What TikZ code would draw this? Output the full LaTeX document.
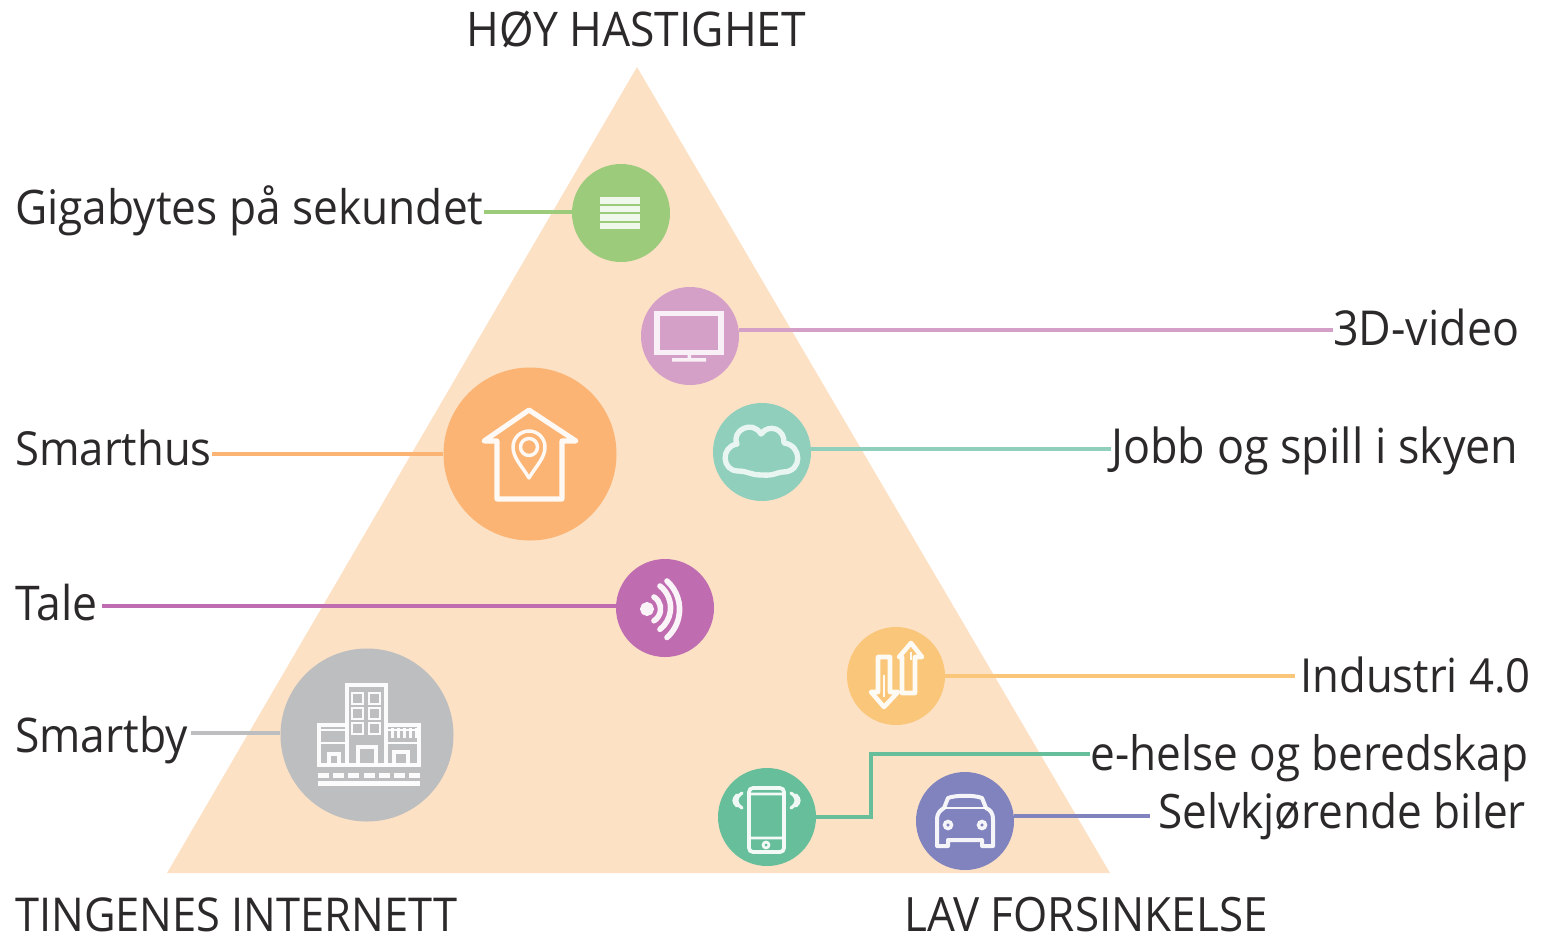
\documentclass[tikz,border=0pt]{standalone}
\usepackage{fontspec}
\setmainfont{Open Sans}[FakeStretch=0.93]
\definecolor{tri}{HTML}{FCE1C5}
\definecolor{cgig}{HTML}{9CCB7C}
\definecolor{ctv}{HTML}{D5A0C8}
\definecolor{ccloud}{HTML}{8FCFBC}
\definecolor{chome}{HTML}{FBB474}
\definecolor{cwave}{HTML}{C06CB0}
\definecolor{carrow}{HTML}{FAC77A}
\definecolor{ccity}{HTML}{BDBEC0}
\definecolor{cphone}{HTML}{66BF9A}
\definecolor{ccar}{HTML}{8083BE}
\definecolor{ink}{HTML}{2B292A}
\tikzset{
  x=0.75pt,y=-0.75pt,
  dot/.style={circle,fill=#1,draw=none,inner sep=0pt,minimum size=98*0.75pt},
  bigdot/.style={circle,fill=#1,draw=none,inner sep=0pt,minimum size=173*0.75pt},
  lab/.style={anchor=base west,inner sep=0pt,text=ink,font=\fontsize{#1}{36}\selectfont},
  wire/.style={draw=#1,line width=2.6pt},
  icon/.style={draw=white,line width=3.8pt,line join=round,line cap=round,opacity=0.92},
  thin icon/.style={draw=white,line width=2.6pt,line join=round,opacity=0.92},
}
\begin{document}
\begin{tikzpicture}
\useasboundingbox (0,0) rectangle (1548,936);
\fill[tri] (637,67) -- (1110,873) -- (167,873) -- cycle;
% circles
\node[dot=cgig] (gig) at (621,213) {};
\node[dot=ctv] (tv) at (690,336) {};
\node[dot=ccloud] (cloud) at (762,452) {};
\node[bigdot=chome] (home) at (530,454) {};
\node[dot=cwave] (wave) at (665,608) {};
\node[dot=carrow] (arrows) at (896,676) {};
\node[bigdot=ccity] (city) at (367,735) {};
\node[dot=cphone] (phone) at (767,817) {};
\node[dot=ccar] (car) at (965,821) {};
% labels
\node[lab=35.8] (top) at (466,46) {HØY HASTIGHET};
\node[lab=35.7] (lgig) at (15,224) {Gigabytes på sekundet};
\node[lab=36.1] (ltv) at (1333,345) {3D-video};
\node[lab=36.2] (lcloud) at (1111,463) {Jobb og spill i skyen};
\node[lab=35.2] (lhome) at (15,465) {Smarthus};
\node[lab=35.9] (lwave) at (15,620) {Tale};
\node[lab=35.2] (larrow) at (1300,692) {Industri 4.0};
\node[lab=35.8] (lcity) at (15,752) {Smartby};
\node[lab=35.6] (lphone) at (1090,770) {e-helse og beredskap};
\node[lab=35.6] (lcar) at (1158,828) {Selvkjørende biler};
\node[lab=35] (bl) at (15,931) {TINGENES INTERNETT};
\node[lab=35.5] (br) at (904,931) {LAV FORSINKELSE};
% connectors
\draw[wire=cgig] (lgig.east |- 0,212) -- (gig.west |- 0,212);
\draw[wire=ctv] (tv.east |- 0,330) -- (ltv.west |- 0,330);
\draw[wire=ccloud] (cloud.east |- 0,449) -- (lcloud.west |- 0,449);
\draw[wire=chome] (lhome.east |- 0,454) -- (home.west);
\draw[wire=cwave,shorten <=3pt] (lwave.east |- 0,606) -- (wave.west |- 0,606);
\draw[wire=carrow,shorten >=3.5pt] (arrows.east) -- (larrow.west |- arrows.east);
\draw[wire=ccity,shorten <=2pt] (lcity.east |- 0,733) -- (city.west |- 0,733);
\draw[wire=cphone] (phone.east) -- (871,817) -- (871,754) -- (lphone.west |- 0,754);
\draw[wire=ccar,shorten >=6pt] (car.east |- 0,816) -- (lcar.west |- 0,816);
% icon: data bars
\foreach \y in {197,205.5,214,222.5}
  \fill[white,opacity=.85] (600,\y) rectangle (640,\y+6.5);
% icon: screen
\draw[white,opacity=.85,line width=4.4pt] (657,313.5) rectangle (721,352.5);
\fill[white,opacity=.85] (687.5,355) rectangle (691,360) (672,358) rectangle (706,361.5);
% icon: cloud
\draw[white,opacity=.8,line width=4pt,line join=round]
  (738,471) .. controls (722,471) and (720,447) .. (737,444)
  .. controls (731,431) and (752,419) .. (761,434)
  .. controls (769,423) and (785,429) .. (784,443)
  .. controls (802,445) and (803,472) .. (783,472)
  .. controls (777,472) and (775,476) .. (762,475)
  .. controls (750,475) and (748,471) .. (738,471) -- cycle;
% icon: house and pin
\draw[icon] (497,441) -- (484,441) -- (529,410) -- (576,441) -- (562,441) -- (562,499) -- (497,499) -- cycle;
\draw[thin icon] (529,478) .. controls (522,466) and (513,458) .. (513,447)
  arc[start angle=180,end angle=360,radius=16]
  .. controls (545,458) and (536,466) .. (529,478) -- cycle;
\draw[thin icon] (529,447) circle[radius=8.5];
% icon: signal
\draw[white,line width=5pt,opacity=.92] (647,609) circle[radius=3.5];
\draw[white,line width=4.2pt,line cap=round,opacity=.92]
  (654,597) arc[start angle=-58,end angle=58,radius=14]
  (660,586) arc[start angle=-52,end angle=52,radius=27.5]
  (667,581) arc[start angle=-48,end angle=48,radius=38];
% icon: two arrows
\draw[white,line width=3.4pt,line join=round,opacity=.92]
  (878,657) -- (890,657) -- (890,692) -- (898,692) -- (884,707) -- (871,692) -- (878,692) -- cycle;
\draw[white,line width=3.4pt,line join=round,opacity=.92]
  (902,693) -- (915,693) -- (915,657) -- (922,657) -- (911,643) -- (899,657) -- (902,657) -- cycle;
\draw[white,line width=1.5pt,opacity=.9] (884,675) -- (884,697) (911,652) -- (911,660);
% icon: city
\begin{scope}[white,opacity=.95]
\draw[line width=3pt] (347,765) -- (347,685) -- (386,685) -- (386,765);
\draw[line width=3pt] (347,725) -- (319,725) -- (319,765) -- (419,765) -- (419,725) -- (386,725);
\draw[line width=2pt] (319,730) -- (347,730) (386,730) -- (419,730);
\foreach \x in {352,369} \foreach \y in {693,708,723}
  \draw[line width=2pt] (\x,\y) rectangle (\x+11,\y+11);
\foreach \x in {391,397,403,409,415} \fill (\x,728) rectangle (\x+2.5,738);
\draw[line width=2.6pt] (358,765) -- (358,747) -- (376,747) -- (376,765);
\draw[line width=2.6pt] (329,765) -- (329,754) -- (339,754) -- (339,765);
\draw[line width=2.6pt] (394,765) -- (394,752) -- (408,752) -- (408,765);
\draw[line width=2pt] (319,743) -- (347,743) (386,743) -- (419,743);
\foreach \x in {318,333,348,364,379,394,409} \fill (\x,773) rectangle (\x+11,777.5);
\fill (318,781) rectangle (420,785.5);
\end{scope}
% icon: phone
\draw[white,line width=2.8pt,rounded corners=3pt,opacity=.92] (749,788) rectangle (784,852);
\draw[white,line width=2pt,opacity=.92] (749,794) -- (784,794) (749,838) -- (784,838) (766,845) circle[radius=3];
\draw[white,line width=2.4pt,opacity=.9,line cap=round]
  (742,793) .. controls (735,798) and (735,803) .. (742,808)
  (737,795) .. controls (733,799) and (733,802) .. (737,806)
  (791,793) .. controls (798,798) and (798,803) .. (791,808)
  (796,795) .. controls (800,799) and (800,802) .. (796,806);
% icon: car
\draw[white,line width=3pt,line join=round,opacity=.92]
  (937,846) -- (937,820) .. controls (937,812) and (941,810) .. (944,808) -- (948,798)
  .. controls (955,795) and (975,795) .. (982,798) -- (986,808)
  .. controls (990,810) and (993,812) .. (993,820) -- (993,846) -- (982,846) -- (982,840)
  -- (948,840) -- (948,846) -- cycle;
\draw[white,line width=2.2pt,opacity=.92] (944,808) -- (986,808);
\draw[white,line width=2.6pt,opacity=.92] (948,825) circle[radius=3.5] (982,825) circle[radius=3.5];
\end{tikzpicture}
\end{document}
